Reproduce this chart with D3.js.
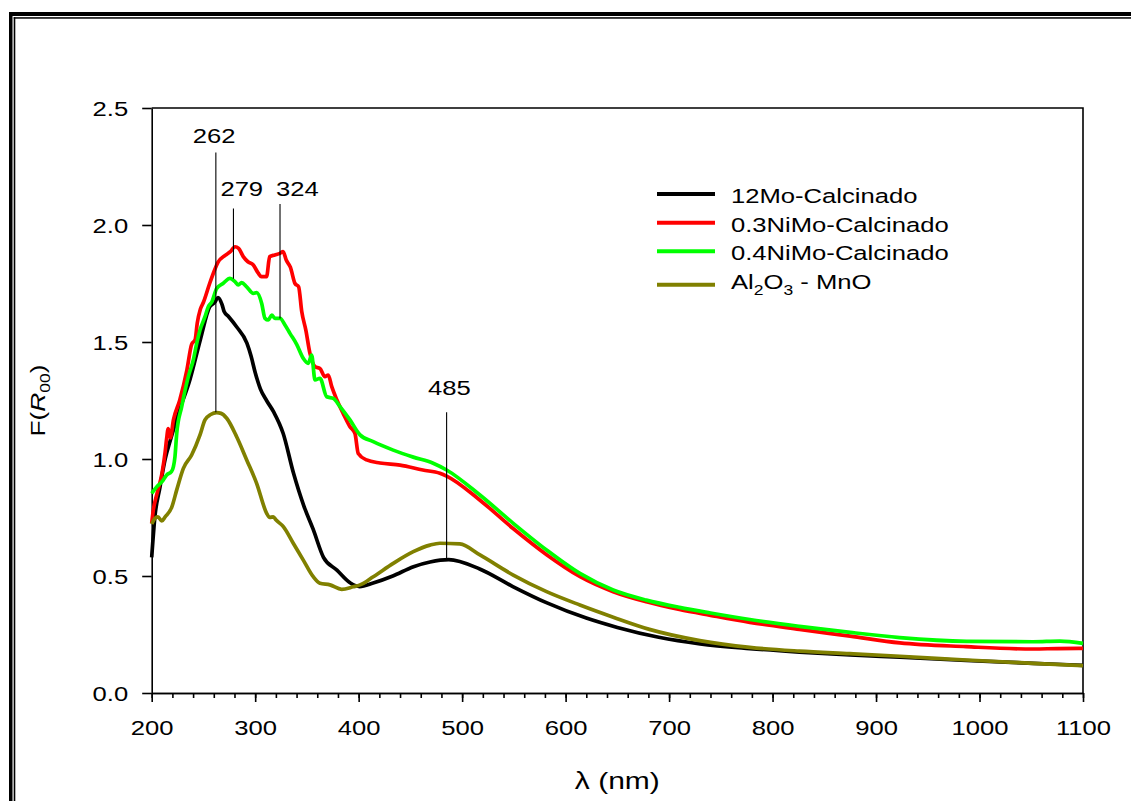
<!DOCTYPE html>
<html>
<head>
<meta charset="utf-8">
<script src="https://cdn.jsdelivr.net/npm/d3@7"></script>
<style>
  html, body { margin: 0; padding: 0; background: #fff; }
  svg { display: block; }
  text { font-family: "Liberation Sans", Arial, sans-serif; fill: #000; }
</style>
</head>
<body>
<svg id="chart" width="1131" height="801"></svg>
<script>
// Kubelka-Munk spectra, F(R∞) against wavelength (nm)
const seriesNames = ["12Mo-Calcinado", "0.3NiMo-Calcinado", "0.4NiMo-Calcinado", "Al2O3 - MnO"];
const seriesColors = ["#000000", "#ff0000", "#00ff00", "#808000"];

const mo12 = [[200,0.58],[203,0.75],[208,0.88],[213,1.00],[218,1.08],[227,1.21],[237,1.34],[247,1.51],[256,1.65],[261,1.67],[264,1.69],[268,1.66],[270,1.63],[274,1.61],[282,1.565],[292,1.495],[296,1.44],[300,1.37],[305,1.30],[311,1.25],[318,1.20],[327,1.11],[337,0.94],[347,0.80],[356,0.70],[366,0.58],[379,0.525],[392,0.47],[401,0.455],[414,0.47],[433,0.50],[453,0.54],[469,0.56],[487,0.57],[517,0.53],[549,0.455],[582,0.385],[620,0.32],[650,0.28],[690,0.238],[730,0.21],[778,0.19],[826,0.175],[875,0.163],[923,0.153],[987,0.139],[1052,0.127],[1100,0.118]];

const nimo03 = [[200,0.725],[201.5,0.78],[205,0.85],[210,0.94],[213,1.03],[214.5,1.09],[216,1.13],[218,1.09],[221,1.167],[227,1.25],[234,1.38],[238.6,1.49],[242,1.51],[244,1.58],[247,1.64],[250,1.67],[256,1.75],[261,1.81],[264,1.84],[271,1.87],[276,1.886],[280.5,1.907],[284,1.90],[288.5,1.865],[293,1.843],[298,1.83],[303,1.794],[306,1.779],[311,1.779],[314,1.865],[319,1.872],[324,1.879],[327,1.886],[330,1.85],[334,1.82],[338.5,1.75],[342,1.736],[345,1.63],[349,1.55],[353,1.45],[358,1.394],[362.6,1.387],[367.4,1.352],[370.6,1.359],[374,1.309],[379,1.252],[385,1.195],[391.6,1.138],[396.4,1.11],[399.6,1.024],[407.7,0.996],[420.6,0.983],[440,0.974],[462,0.953],[478.5,0.939],[485,0.927],[517,0.825],[549,0.704],[582,0.59],[614,0.497],[646,0.433],[678,0.39],[710,0.357],[740,0.332],[778,0.302],[826,0.272],[875,0.243],[923,0.214],[987,0.198],[1052,0.188],[1075,0.19],[1100,0.191]];

const nimo04 = [[200,0.853],[205,0.882],[210,0.903],[214.5,0.932],[219,0.946],[221,0.967],[222.5,1.01],[224.2,1.11],[229,1.224],[235.4,1.352],[240.2,1.423],[243.5,1.494],[246.7,1.551],[251.5,1.608],[254.7,1.651],[258,1.67],[262.8,1.729],[269.2,1.751],[275.6,1.772],[280.5,1.758],[283.7,1.744],[286.9,1.754],[291.8,1.736],[298.2,1.708],[301.4,1.711],[306.3,1.665],[309.5,1.601],[312.7,1.594],[316,1.615],[319.1,1.601],[324,1.601],[328.8,1.573],[333.6,1.537],[340.1,1.49],[346.5,1.43],[351.3,1.409],[354.6,1.444],[357.8,1.338],[362.6,1.345],[369.1,1.266],[375.5,1.259],[382,1.224],[391.6,1.167],[401.3,1.103],[414.1,1.074],[433.4,1.038],[452.8,1.008],[472,0.982],[485,0.953],[517.2,0.846],[549.4,0.725],[581.6,0.611],[613.8,0.511],[646,0.44],[678,0.397],[710,0.366],[740,0.342],[778,0.314],[826,0.285],[875,0.259],[923,0.237],[987.5,0.221],[1051.6,0.219],[1077.6,0.222],[1100,0.212]];

const al2o3MnO = [[200,0.722],[203,0.746],[206,0.753],[209.7,0.735],[213,0.753],[219.3,0.793],[224.2,0.868],[230.6,0.96],[238.6,1.017],[246.7,1.103],[251.5,1.167],[257,1.19],[262.8,1.198],[267,1.195],[272.5,1.174],[282.1,1.095],[291.8,0.996],[301.4,0.896],[311.1,0.768],[314,0.75],[317.5,0.753],[320,0.74],[327.2,0.711],[336.8,0.64],[346.5,0.568],[356.1,0.497],[362.6,0.469],[372.3,0.462],[383.6,0.443],[394.8,0.454],[401.3,0.462],[414.1,0.497],[433.4,0.554],[452.8,0.604],[468.9,0.632],[478.5,0.64],[497.8,0.637],[517.2,0.59],[549.4,0.504],[581.6,0.433],[613.8,0.376],[646,0.324],[681,0.272],[729.7,0.224],[778,0.195],[826,0.179],[874.7,0.168],[923,0.157],[987.5,0.141],[1051.6,0.127],[1100,0.117]];

// peak markers: wavelength, top and bottom of the marker line (F units)
const peakLambda = [262, 279, 324, 485];
const peakTop    = [2.31, 2.07, 2.09, 1.20];
const peakBottom = [1.20, 1.77, 1.60, 0.57];

const xTicks = [200, 300, 400, 500, 600, 700, 800, 900, 1000, 1100];
const xMinorTicks = d3.range(200, 1101, 20);
const yTicks = [0, 0.5, 1.0, 1.5, 2.0, 2.5];

const svg = d3.select("#chart");
const SX = 1.25;           // horizontal glyph stretch used for all labels
const FS = 20.5;

const x = d3.scaleLinear().domain([200, 1100]).range([151.7, 1083]);
const y = d3.scaleLinear().domain([0, 2.5]).range([693, 108]);

// double page frame (top and left)
svg.append("rect").attr("x", 9).attr("y", 12).attr("width", 1131).attr("height", 4).attr("fill", "#000");
svg.append("rect").attr("x", 13.7).attr("y", 17.2).attr("width", 1131).attr("height", 1.5).attr("fill", "#000");
svg.append("rect").attr("x", 9).attr("y", 12).attr("width", 3.5).attr("height", 801).attr("fill", "#000");
svg.append("rect").attr("x", 13.7).attr("y", 17.2).attr("width", 1.6).attr("height", 801).attr("fill", "#000");

function label(parent, px, py, str, anchor, size) {
  return parent.append("text")
    .attr("transform", `translate(${px},${py}) scale(${SX},1)`)
    .attr("text-anchor", anchor || "middle")
    .attr("font-size", size || FS)
    .text(str);
}

// plot box (top and right)
svg.append("path")
  .attr("d", `M${x(200)},${y(2.5)}H${x(1100)}V${y(0)}`)
  .attr("fill", "none").attr("stroke", "#000").attr("stroke-width", 1.6);

// x axis: minor then major ticks
const xMinor = svg.append("g").attr("transform", `translate(0,${y(0)})`)
  .call(d3.axisBottom(x).tickValues(xMinorTicks).tickSize(5).tickSizeOuter(0).tickFormat(""));
const xAxis = svg.append("g").attr("transform", `translate(0,${y(0)})`)
  .call(d3.axisBottom(x).tickValues(xTicks).tickSize(9).tickSizeOuter(0).tickFormat(d3.format("d")));
[xMinor, xAxis].forEach(g => {
  g.selectAll("path,line").attr("stroke", "#000").attr("stroke-width", 1.6);
});
xAxis.selectAll("text")
  .attr("y", null).attr("dy", null)
  .attr("transform", `translate(0,42) scale(${SX},1)`)
  .attr("font-size", FS).attr("font-family", null).attr("fill", "#000");

// y axis
const yAxis = svg.append("g").attr("transform", `translate(${x(200)},0)`)
  .call(d3.axisLeft(y).tickValues(yTicks).tickSize(9.5).tickSizeOuter(0).tickFormat(d3.format(".1f")));
yAxis.selectAll("path,line").attr("stroke", "#000").attr("stroke-width", 1.6);
yAxis.selectAll("text")
  .attr("x", null).attr("dy", null)
  .attr("transform", `translate(-23.5,7.3) scale(${SX},1)`)
  .attr("font-size", FS).attr("font-family", null).attr("fill", "#000");
svg.selectAll(".domain").attr("stroke", "#000");

// axis titles
label(svg, (x(200) + x(1100)) / 2, 789, "λ (nm)", "middle", 24);
const yTitle = svg.append("text")
  .attr("transform", `translate(45,${(y(0) + y(2.5)) / 2}) rotate(-90) scale(${SX},1)`)
  .attr("text-anchor", "middle").attr("font-size", 21);
yTitle.append("tspan").text("F(");
yTitle.append("tspan").attr("font-style", "italic").text("R");
yTitle.append("tspan").attr("font-size", 14).attr("dy", 5).text("00");
yTitle.append("tspan").attr("dy", -5).text(")");

// spectra
const line = d3.line().x(d => x(d[0])).y(d => y(d[1])).curve(d3.curveMonotoneX);
const allSeries = [mo12, nimo03, nimo04, al2o3MnO];
const plot = svg.append("g");
allSeries.forEach((s, i) => {
  plot.append("path").datum(s)
    .attr("d", line)
    .attr("fill", "none")
    .attr("stroke", seriesColors[i])
    .attr("stroke-width", 3.7)
    .attr("stroke-linejoin", "round");
});

// peak markers and their labels
const labelShift = [-1.7, 8.3, 17.4, 2.8];
const labelY = [143, 196, 196, 395];
peakLambda.forEach((p, i) => {
  svg.append("line")
    .attr("x1", x(p)).attr("x2", x(p))
    .attr("y1", y(peakTop[i])).attr("y2", y(peakBottom[i]))
    .attr("stroke", "#000").attr("stroke-width", 1.1);
  label(svg, x(p) + labelShift[i], labelY[i], String(p));
});

// legend
const legendLineY = [194, 222.7, 251.3, 284.7];
const legendTextY = [203.3, 231.7, 260.2, 289.3];
seriesNames.forEach((name, i) => {
  svg.append("line")
    .attr("x1", 657).attr("x2", 715)
    .attr("y1", legendLineY[i]).attr("y2", legendLineY[i])
    .attr("stroke", seriesColors[i]).attr("stroke-width", 4);
  const t = label(svg, 731, legendTextY[i], "", "start");
  if (i === 3) {
    t.append("tspan").text("Al");
    t.append("tspan").attr("font-size", 14).attr("dy", 6).text("2");
    t.append("tspan").attr("dy", -6).text("O");
    t.append("tspan").attr("font-size", 14).attr("dy", 6).text("3");
    t.append("tspan").attr("dy", -6).text(" - MnO");
  } else {
    t.text(name);
  }
});
</script>
</body>
</html>
